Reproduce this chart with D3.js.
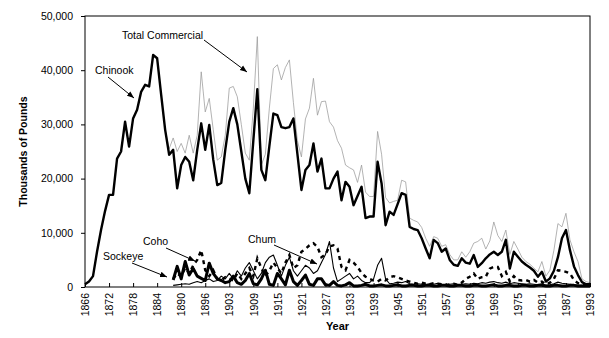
<!DOCTYPE html>
<html><head><meta charset="utf-8">
<script src="https://cdn.jsdelivr.net/npm/d3@7/dist/d3.min.js"></script>
<style>
html,body{margin:0;padding:0;background:#fff;}
text{font-family:"Liberation Sans",Arial,sans-serif;}
</style></head>
<body><svg id="c" width="609" height="338"></svg>
<script>
// Categories (one year between 1897 and 1902 absent in source series)
const years = [1866,1867,1868,1869,1870,1871,1872,1873,1874,1875,1876,1877,1878,1879,1880,1881,1882,1883,1884,1885,
1886,1887,1888,1889,1890,1891,1892,1893,1894,1895,1896,1897,1898,1900,1901,1902,1903,1904,1905,1906,
1907,1908,1909,1910,1911,1912,1913,1914,1915,1916,1917,1918,1919,1920,1921,1922,1923,1924,1925,1926,
1927,1928,1929,1930,1931,1932,1933,1934,1935,1936,1937,1938,1939,1940,1941,1942,1943,1944,1945,1946,
1947,1948,1949,1950,1951,1952,1953,1954,1955,1956,1957,1958,1959,1960,1961,1962,1963,1964,1965,1966,
1967,1968,1969,1970,1971,1972,1973,1974,1975,1976,1977,1978,1979,1980,1981,1982,1983,1984,1985,1986,
1987,1988,1989,1990,1991,1992,1993];

const chinook = [500,1000,2000,6500,10500,14000,17000,17000,23700,25000,30500,25900,31100,32700,36000,37300,37000,42800,42200,35500,
29000,24400,25300,18200,22500,24000,23100,19700,25300,30200,25300,29900,23500,18800,19200,25300,30500,33000,30000,25000,
20000,17300,27000,36500,21600,19700,26000,32000,31700,29500,29300,29500,31100,24500,17900,21600,22500,26500,21300,23700,
18200,18200,20000,21300,16000,19400,18500,15100,16800,18500,12700,13000,13000,23100,19100,11400,13900,13300,15300,17300,
17000,11100,10700,10500,9000,7100,5300,8700,8100,6500,7100,5000,4100,3900,5300,4500,4300,5900,3700,4400,
5300,6000,6500,5900,6500,8700,3400,6500,5600,4700,4100,3600,3000,1900,2800,1000,1600,3000,5500,9000,
10500,6800,3800,2200,900,500,500];

const totalCommercial = [500,1000,2000,6500,10500,14000,17000,17000,23700,25000,30500,25900,31100,32700,36000,37300,37000,42800,42200,35500,
29000,25500,27500,25000,26500,24700,28000,24700,28000,39700,32300,34800,29000,23400,24000,28000,36700,37000,35100,30000,
24700,23400,33000,46200,22500,24500,33000,40300,41000,38200,40500,41900,34000,27000,24000,31000,33000,38500,31700,34200,
34300,30500,29500,27000,25600,22500,22000,21600,19300,22500,17500,16700,16700,28700,24500,16500,15500,15800,16000,19700,
19400,12700,12300,12000,11000,9000,7500,9300,9000,7500,7800,6000,5000,5000,6500,5500,6500,8100,8400,9000,
7000,8500,12000,9500,8400,10500,6000,8400,7000,5500,4700,4200,3500,2800,4700,2000,3100,6800,11700,11100,
13600,8700,6500,4700,1500,1000,800];

const N = null;
const coho = [N,N,N,N,N,N,N,N,N,N,N,N,N,N,N,N,N,N,N,N,
N,N,1500,2500,2000,3500,2500,4000,5000,6800,3100,2000,3100,1500,1200,1800,1500,1200,2500,1500,
2500,3500,2000,5300,3500,2000,3000,4500,3500,2500,4500,5900,3500,4000,6500,7000,7700,8100,7400,5500,
6000,7500,7700,7100,3700,3100,5000,4500,3700,2600,1900,1500,1200,1000,1500,1200,1800,2000,1800,1500,
1200,1000,800,600,800,600,500,700,600,500,400,500,600,400,800,1500,1900,2500,1500,1800,
1900,3400,3700,3700,2000,2800,1000,2000,1300,1200,1300,1000,1300,800,1000,500,800,1500,3100,3000,
2800,2500,1300,700,400,300,300];

const chum = [N,N,N,N,N,N,N,N,N,N,N,N,N,N,N,N,N,N,N,N,
N,N,300,400,500,600,500,800,1000,800,1200,1500,1000,1200,2000,1500,2500,1500,3000,2000,
3500,4500,3000,1500,2500,4500,5500,5900,4000,2000,4000,5500,3000,2000,3000,4000,3500,2500,3000,4500,
6000,8400,3500,1000,1500,2000,2500,1500,2000,1200,800,800,1500,4000,5300,1500,600,700,900,800,
1000,600,500,600,500,400,600,500,700,500,400,500,600,400,500,600,500,700,600,800,
700,900,1000,800,700,900,600,800,700,600,500,600,500,400,600,300,400,600,900,700,
600,500,400,300,300,200,200];

const sockeye = [N,N,N,N,N,N,N,N,N,N,N,N,N,N,N,N,N,N,N,N,
N,N,1300,3800,1500,4700,2200,3400,2000,1600,1200,4400,2500,1500,1200,800,1000,2000,800,500,
1200,2500,600,400,1500,3100,500,300,2500,1500,400,3100,1000,300,1200,2200,500,300,1500,1500,
400,300,1000,300,200,400,800,200,200,300,500,200,200,300,400,200,200,300,400,200,
200,300,300,200,200,300,300,200,200,300,300,200,200,300,300,200,200,300,300,200,
200,300,400,200,200,300,300,200,200,300,300,200,200,300,300,200,200,300,300,200,
200,300,300,200,200,200,200];

const yTicks = [0,10000,20000,30000,40000,50000];
const xTickYears = [1866,1872,1878,1884,1890,1896,1903,1909,1915,1921,1927,1933,1939,1945,1951,1957,1963,1969,1975,1981,1987,1993];

const svg = d3.select("#c");
const L=85, R=590, T=16, B=287;
const x = d3.scalePoint().domain(years).range([L,R]);
const y = d3.scaleLinear().domain([0,50000]).range([B,T]);

const line = d3.line().defined(d=>d.v!==null).x(d=>x(d.yr)).y(d=>y(d.v));
const mk = arr => arr.map((v,i)=>({yr:years[i], v:v}));

const gPlot = svg.append("g");
gPlot.append("path").datum(mk(totalCommercial)).attr("d",line)
  .attr("fill","none").attr("stroke","#999").attr("stroke-width",0.75);
gPlot.append("path").datum(mk(chum)).attr("d",line)
  .attr("fill","none").attr("stroke","#000").attr("stroke-width",1.1).attr("stroke-linejoin","round");
gPlot.append("path").datum(mk(coho)).attr("d",line)
  .attr("fill","none").attr("stroke","#000").attr("stroke-width",2.4).attr("stroke-dasharray","4,4");
gPlot.append("path").datum(mk(sockeye)).attr("d",line)
  .attr("fill","none").attr("stroke","#000").attr("stroke-width",3).attr("stroke-linejoin","round");
gPlot.append("path").datum(mk(chinook)).attr("d",line)
  .attr("fill","none").attr("stroke","#000").attr("stroke-width",2.4).attr("stroke-linejoin","round");

// frame
svg.append("rect").attr("x",L).attr("y",T).attr("width",R-L).attr("height",B-T)
  .attr("fill","none").attr("stroke","#000").attr("stroke-width",1);

// y axis
const ya = svg.append("g").attr("transform",`translate(${L},0)`)
  .call(d3.axisLeft(y).tickValues(yTicks).tickFormat(d3.format(",")).tickSize(4).tickPadding(8));
ya.select(".domain").remove();
ya.selectAll("text").style("font-size","10.5px").attr("fill","#000");

// x axis
const xa = svg.append("g").attr("transform",`translate(0,${B})`)
  .call(d3.axisBottom(x).tickValues(xTickYears).tickSizeInner(-4).tickSizeOuter(0));
xa.select(".domain").remove();
xa.selectAll("text").attr("transform","rotate(-90)").attr("x",-6).attr("y",0).attr("dy","0.35em")
  .style("text-anchor","end").style("font-size","10.5px").attr("fill","#000");

// axis titles
svg.append("text").attr("x",(L+R)/2).attr("y",330).attr("text-anchor","middle")
  .style("font-size","11px").style("font-weight","bold").text("Year");
svg.append("text").attr("transform",`translate(27,${(T+B)/2}) rotate(-90)`).attr("text-anchor","middle")
  .style("font-size","10.5px").style("font-weight","bold").text("Thousands of Pounds");

// annotations
svg.append("defs").append("marker").attr("id","ah").attr("viewBox","0 0 10 10")
  .attr("refX",10).attr("refY",5).attr("markerWidth",7).attr("markerHeight",7).attr("orient","auto")
  .append("path").attr("d","M0,1 L10,5 L0,9 z").attr("fill","#000");

const notes = [
  {t:"Total Commercial", tx:122, ty:39, x1:204, y1:40, x2:247, y2:72},
  {t:"Chinook", tx:95, ty:74, x1:108, y1:77, x2:134, y2:98},
  {t:"Coho", tx:143, ty:245, x1:166, y1:248, x2:195, y2:261},
  {t:"Sockeye", tx:103, ty:260, x1:132, y1:263, x2:167, y2:277},
  {t:"Chum", tx:248, ty:243, x1:274, y1:245, x2:317, y2:264}
];
notes.forEach(n=>{
  svg.append("text").attr("x",n.tx).attr("y",n.ty).style("font-size","10.5px").text(n.t);
  svg.append("line").attr("x1",n.x1).attr("y1",n.y1).attr("x2",n.x2).attr("y2",n.y2)
    .attr("stroke","#000").attr("stroke-width",1).attr("marker-end","url(#ah)");
});
</script></body></html>
